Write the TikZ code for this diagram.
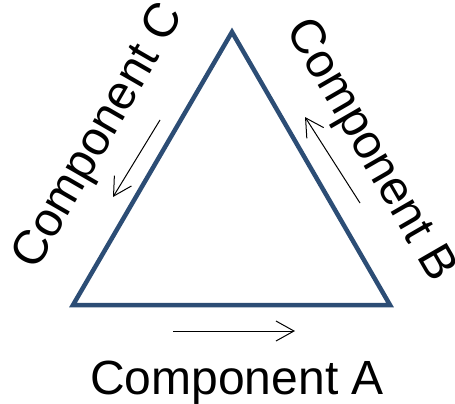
\documentclass[tikz,border=0pt]{standalone}
\usepackage{fontspec}
\setmainfont{Liberation Sans}
\usepackage{tikz}
\usetikzlibrary{arrows.meta}

\definecolor{sideblue}{RGB}{44,77,117}

\begin{document}
\begin{tikzpicture}[x=1pt,y=-1pt,
  side/.style={draw=sideblue,line width=4.5pt,line join=miter},
  flow/.style={line width=1pt,-{Straight Barb[length=18pt,width=20pt,line width=1pt]}},
  lbl/.style={font=\fontsize{48}{52}\selectfont,inner sep=0pt}]
  \useasboundingbox (0,0) rectangle (455,404);

  \coordinate (T) at (232,32);
  \coordinate (L) at (73,305);
  \coordinate (R) at (390,305);

  \draw[side] (T) -- (R) -- (L) -- cycle;

  % arrows along the sides
  \coordinate (a1) at (173,331);
  \coordinate (a2) at (295,331);
  \coordinate (b1) at (360,203);
  \coordinate (b2) at (305,117);
  \coordinate (c1) at (160,120);
  \coordinate (c2) at (113,197);
  \draw[flow] (a1) -- (a2);
  \draw[flow] (b1) -- (b2);
  \draw[flow] (c1) -- (c2);

  \node[lbl,anchor=base] (compA) at (237,394) {Component A};
  \node[lbl,rotate=-60] (compB) at (369,151) {Component B};
  \node[lbl,rotate=60] (compC) at (100,137) {Component C};
\end{tikzpicture}
\end{document}
